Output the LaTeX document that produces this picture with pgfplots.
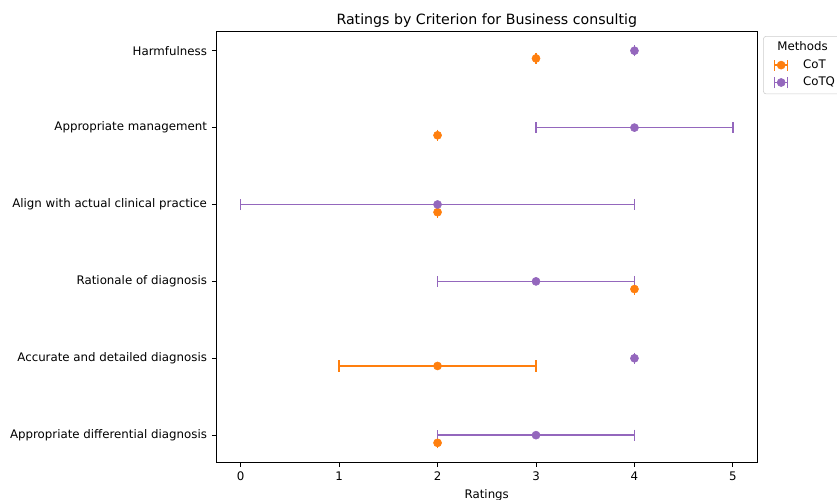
\documentclass[border=0pt]{standalone}
\usepackage{fontspec}
\setmainfont{DejaVu Sans}
\usepackage{pgfplots}
\pgfplotsset{compat=1.18}
\definecolor{cot}{HTML}{FF7F0E}
\definecolor{cotq}{HTML}{9467BD}
\newcommand{\fs}{\fontsize{8.5pt}{10pt}\selectfont}
\begin{document}
\begin{tikzpicture}
\begin{axis}[
  at={(0,0)}, anchor=south west,
  scale only axis, width=389.8pt, height=310.5pt,
  xmin=-0.25, xmax=5.25, ymin=-0.355, ymax=5.255,
  xtick={0,1,2,3,4,5}, ytick={0,1,2,3,4,5},
  yticklabels={Appropriate differential diagnosis, Accurate and detailed diagnosis, Rationale of diagnosis, Align with actual clinical practice, Appropriate management, Harmfulness},
  tick align=outside, xtick pos=bottom, ytick pos=left,
  major tick length=3pt,
  tick style={black, line width=0.68pt},
  axis line style={black, line width=0.68pt},
  /pgf/number format/assume math mode=true,
  ticklabel style={font=\fs},
  label style={font=\fs},
  xlabel={Ratings},
  title={Ratings by Criterion for Business consultig},
  title style={font=\fontsize{10.2pt}{12pt}\selectfont, at={(0.5,1)}, anchor=base, yshift=-1.2pt},
  legend style={at={(1.0104,0.9886)}, anchor=north west, draw=black!20, rounded corners=2pt,
    font=\fs, row sep=0pt, inner xsep=7.5pt, inner ysep=2pt,
    nodes={text height=6.2pt, text depth=1.8pt, inner sep=2.25pt}},
  legend cell align=left,
]
\addlegendimage{empty legend}
\addlegendentry{\hspace*{-18.5pt}Methods}

\addplot[cot, only marks, mark=*, mark size=2.9pt,
  legend image code/.code={
    \draw[cot, line width=1.1pt] (0pt,0pt) -- (9.4pt,0pt);
    \draw[cot, line width=1.1pt] (0pt,-4pt) -- (0pt,4pt);
    \draw[cot, line width=1.1pt] (9.4pt,-4pt) -- (9.4pt,4pt);
    \fill[cot] (4.7pt,0pt) circle (2.9pt);
    \path (18pt,0pt);},
  error bars/.cd, x dir=both, x explicit, error mark=|,
  error bar style={line width=1.1pt, cot},
  error mark options={mark size=4pt, line width=1.1pt, cot}]
coordinates {
  (2,-0.1) +- (0.0001,0)
  (2,0.9) +- (1,0)
  (4,1.9) +- (0.0001,0)
  (2,2.9) +- (0.0001,0)
  (2,3.9) +- (0.0001,0)
  (3,4.9) +- (0.0001,0)
};
\addlegendentry{CoT}

\addplot[cotq, only marks, mark=*, mark size=2.9pt,
  legend image code/.code={
    \draw[cotq, line width=1.1pt] (0pt,0pt) -- (9.4pt,0pt);
    \draw[cotq, line width=1.1pt] (0pt,-4pt) -- (0pt,4pt);
    \draw[cotq, line width=1.1pt] (9.4pt,-4pt) -- (9.4pt,4pt);
    \fill[cotq] (4.7pt,0pt) circle (2.9pt);
    \path (18pt,0pt);},
  error bars/.cd, x dir=both, x explicit, error mark=|,
  error bar style={line width=1.1pt, cotq},
  error mark options={mark size=4pt, line width=1.1pt, cotq}]
coordinates {
  (3,0) +- (1,0)
  (4,1) +- (0.0001,0)
  (3,2) +- (1,0)
  (2,3) +- (2,0)
  (4,4) +- (1,0)
  (4,5) +- (0.0001,0)
};
\addlegendentry{CoTQ}
\end{axis}
\pgfresetboundingbox
\path[use as bounding box] ([xshift=-155.5pt,yshift=-26.9pt]current axis.south west) rectangle ([xshift=57.2pt,yshift=22.4pt]current axis.north east);
\end{tikzpicture}
\end{document}
